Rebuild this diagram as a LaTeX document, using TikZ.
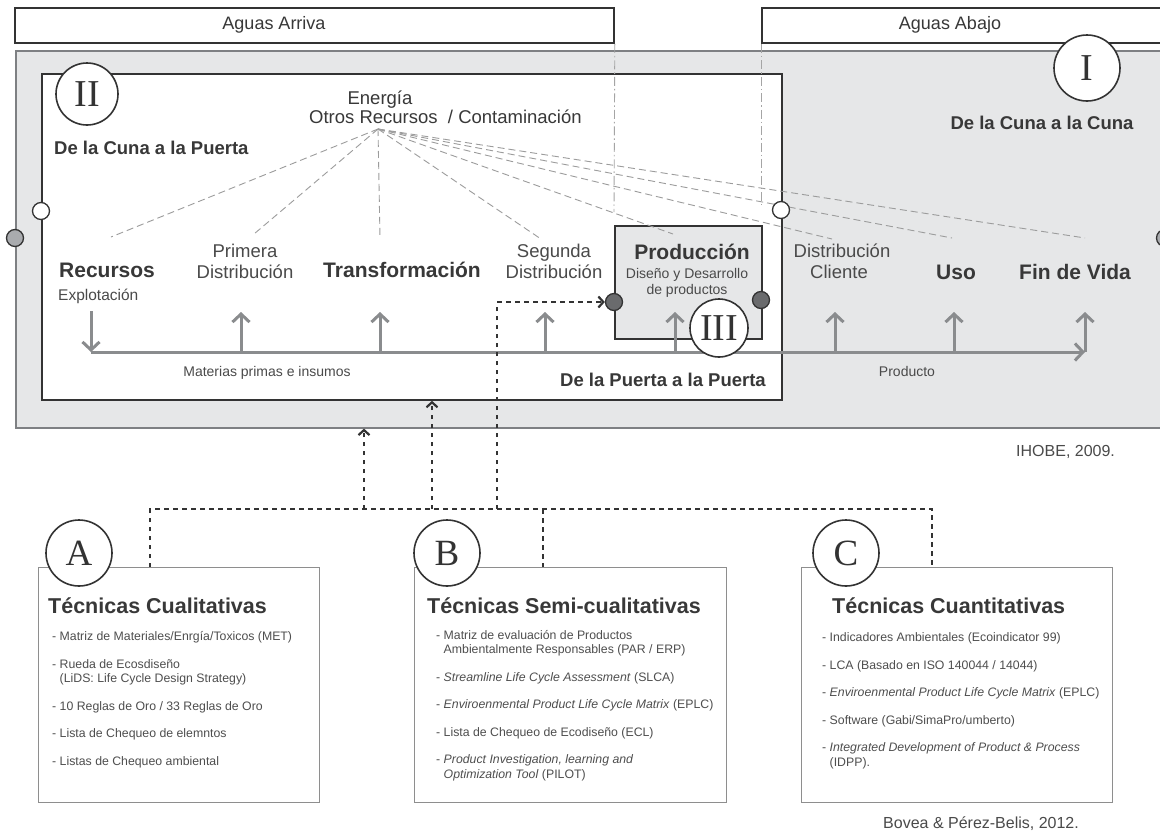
\documentclass[tikz,border=0pt]{standalone}
\usepackage{fontspec}
\setmainfont{Liberation Sans}
\newfontfamily\romanfont{Liberation Serif}
\usetikzlibrary{arrows.meta}

\definecolor{cradlefill}{HTML}{E6E7E8}
\definecolor{cradleline}{HTML}{7E8083}
\definecolor{ink}{HTML}{333333}
\definecolor{txt}{HTML}{383838}
\definecolor{softtxt}{HTML}{4A4A4A}
\definecolor{flow}{HTML}{8A8C8E}
\definecolor{fanline}{HTML}{9C9C9C}
\definecolor{guideline}{HTML}{A5A5A5}
\definecolor{listtxt}{HTML}{4E4E4E}
\definecolor{techline}{HTML}{8E8E8E}
\definecolor{knobdark}{HTML}{6A6B6D}
\definecolor{knobmid}{HTML}{A9ABAE}

\tikzset{
  band/.style={draw=ink, line width=1.8pt, fill=white, inner sep=0pt, anchor=north west},
  bandtext/.style={font=\fontsize{18}{21}\selectfont, text=txt, inner sep=0pt},
  guide/.style={draw=guideline, line width=0.9pt, dash pattern=on 9pt off 3pt on 1.5pt off 3pt},
  fan/.style={draw=fanline, line width=0.9pt, dash pattern=on 7pt off 4pt},
  knob/.style={circle, draw=ink, line width=1.3pt, minimum size=17pt, inner sep=0pt},
  roman/.style={circle, draw=ink, line width=1.6pt, fill=white, inner sep=0pt,
    font=\romanfont\fontsize{38}{38}\selectfont, text=ink},
  heading/.style={font=\bfseries\fontsize{18.5}{22}\selectfont, text=txt, inner sep=0pt},
  stagebold/.style={font=\bfseries\fontsize{21}{24}\selectfont, text=txt, inner sep=0pt, anchor=base},
  stagereg/.style={font=\fontsize{18.5}{21}\selectfont, text=softtxt, inner sep=0pt, anchor=base},
  note/.style={font=\fontsize{14}{16}\selectfont, text=softtxt, inner sep=0pt, anchor=base},
  flowarrow/.style={draw=flow, line width=3pt, -{Straight Barb[length=8pt,width=17pt]}},
  bus/.style={draw=ink, line width=2.2pt, dash pattern=on 4.5pt off 4.5pt},
  bustip/.style={-{Straight Barb[length=5pt,width=11pt]}},
  techbox/.style={draw=techline, line width=1.2pt, fill=white, inner sep=0pt, anchor=north west,
    minimum height=235pt},
  techtitle/.style={font=\bfseries\fontsize{21.5}{24}\selectfont, text=txt, inner sep=0pt, anchor=base west},
  % multi-line lists are placed by the baseline of their last line
  techlist/.style={font=\fontsize{12.3}{14.5}\selectfont, text=listtxt, inner sep=0pt,
    align=left, anchor=base west},
  credit/.style={font=\fontsize{16}{19}\selectfont, text=softtxt, inner sep=0pt, anchor=base west},
}

\begin{document}
\begin{tikzpicture}[x=1pt,y=-1pt]
\useasboundingbox (0,0) rectangle (1160,833);
\clip (0,0) rectangle (1160,833);
\fill[white] (0,0) rectangle (1160,833);

% ---- life cycle frames ----
\node[draw=cradleline, fill=cradlefill, line width=1.6pt, inner sep=0pt, anchor=north west,
      minimum width=1152pt, minimum height=377pt] (c2c) at (15,50) {};
\node[draw=ink, fill=white, line width=1.8pt, inner sep=0pt, anchor=north west,
      minimum width=740pt, minimum height=326pt] (c2g) at (41,73) {};

% ---- upstream / downstream bands ----
\node[band, minimum width=599pt, minimum height=35pt] (upstream) at (14,7) {};
\node[bandtext] (upstreamlabel) at (274,24.5) {Aguas Arriva};
\node[band, minimum width=420pt, minimum height=35pt] (downstream) at (761,7) {};
\node[bandtext] (downstreamlabel) at (950,24.5) {Aguas Abajo};

\coordinate (guideA) at (614,212);
\coordinate (guideB) at (761,205);
\draw[guide] (upstream.south east) -- (guideA);
\draw[guide] (downstream.south west) -- (guideB);

% ---- production block ----
\node[draw=ink, fill=cradlefill, line width=1.8pt, inner sep=0pt, anchor=north west,
      minimum width=147pt, minimum height=113pt] (prod) at (614,225) {};

% ---- inputs / outputs fan ----
\coordinate (hub) at (378,129);
\coordinate (fanRec) at (111,237);
\coordinate (fanPri) at (254,234);
\coordinate (fanTra) at (380,238);
\coordinate (fanSeg) at (541,239);
\coordinate (fanPro) at (673,234);
\coordinate (fanDis) at (832,239);
\coordinate (fanUso) at (952,238);
\coordinate (fanFin) at (1085,238);
\foreach \e in {fanRec,fanPri,fanTra,fanSeg,fanPro,fanDis,fanUso,fanFin}
  \draw[fan] (hub) -- (\e);

% ---- stage labels ----
\node[stagebold, anchor=base west] (recursos) at (59,277.5) {Recursos};
\node[stagereg, anchor=base west, font=\fontsize{15.5}{18}\selectfont] (explotacion) at (58,300.5) {Explotación};
\node[stagereg] (primera1) at (245,257.6) {Primera};
\node[stagereg] (primera2) at (245,278.6) {Distribución};
\node[stagebold] (transformacion) at (402,277.5) {Transformación};
\node[stagereg] (segunda1) at (554,257.6) {Segunda};
\node[stagereg] (segunda2) at (554,278.6) {Distribución};
\node[stagebold] (produccion) at (692,259.5) {Producción};
\node[note] (diseno1) at (687,278) {Diseño y Desarrollo};
\node[note] (diseno2) at (687,294) {de productos};
\node[stagereg] (cliente1) at (842,257.6) {Distribución};
\node[stagereg] (cliente2) at (839,278.6) {Cliente};
\node[stagebold] (uso) at (956,279.5) {Uso};
\node[stagebold] (fin) at (1075,279.5) {Fin de Vida};

% ---- material / product flow ----
\coordinate (axisL) at (91,352);
\coordinate (axisR) at (1085,352);
\coordinate (dropTop) at (91,311);
\draw[flowarrow] (dropTop) -- (axisL);
\draw[flowarrow] (axisL) -- (axisR);
\foreach \x/\nm in {241/a,380/b,545/c,675/d,835/e,954/f,1085/g}{
  \coordinate (foot\nm) at (\x,352);
  \coordinate (rise\nm) at (\x,312);
  \draw[flowarrow] (foot\nm) -- (rise\nm);
}
\node[note] (matLabel) at (267,376) {Materias primas e insumos};
\node[note] (prodLabel) at (907,376) {Producto};

% ---- boundary knobs ----
\node[knob, fill=knobmid] (knobL) at (15,238) {};
\node[knob, fill=knobmid] (knobR) at (1165,238) {};
\node[knob, fill=white] (knobG1) at (41,211) {};
\node[knob, fill=white] (knobG2) at (781,210) {};
\node[knob, fill=knobdark] (knobP1) at (614,302) {};
\node[knob, fill=knobdark] (knobP2) at (761,300) {};

% ---- scope markers ----
\node[roman, minimum size=62pt] (romII) at (87,94) {II};
\node[roman, minimum size=66pt] (romI) at (1087,68) {I};
\node[roman, minimum size=58pt] (romIII) at (719,328) {III};

\node[heading, anchor=base west] (c2gLabel) at (54,154.6) {De la Cuna a la Puerta};
\node[heading, anchor=base] (c2cLabel) at (1042,129.6) {De la Cuna a la Cuna};
\node[heading, anchor=base east] (g2gLabel) at (766,386.6) {De la Puerta a la Puerta};

\node[stagereg, text=txt] (energy) at (380,104.6) {Energía};
\node[stagereg, text=txt, anchor=base west] (resources) at (309,123.6) {Otros Recursos~~/ Contaminación};

\node[credit] (ihobe) at (1016,456.7) {IHOBE, 2009.};

% ---- technique boxes ----
\node[techbox, minimum width=281pt] (techA) at (38,567) {};
\node[techbox, minimum width=312pt] (techB) at (414,567) {};
\node[techbox, minimum width=311pt] (techC) at (801,567) {};

% ---- links from techniques to the life cycle ----
\coordinate (busA) at (150,509);
\coordinate (busB) at (543,509);
\coordinate (busC) at (932,509);
\coordinate (busUp1) at (364,509);
\coordinate (busUp2) at (432,509);
\coordinate (busUp3) at (497,509);
\draw[bus] (busA |- techA.north) -- (busA) -- (busC) -- (busC |- techC.north);
\draw[bus] (busB) -- (busB |- techB.north);
\draw[bus, bustip] (busUp1) -- (busUp1 |- c2c.south);
\draw[bus, bustip] (busUp2) -- (busUp2 |- c2g.south);
\draw[bus, bustip] (busUp3) |- (knobP1.west);

\node[roman, minimum size=66pt, font=\romanfont\fontsize{37}{37}\selectfont] (tagA) at (79,553) {A};
\node[roman, minimum size=66pt, font=\romanfont\fontsize{37}{37}\selectfont] (tagB) at (447,553) {B};
\node[roman, minimum size=66pt, font=\romanfont\fontsize{37}{37}\selectfont] (tagC) at (846,553) {C};

\node[techtitle] (titleA) at (48,613.7) {Técnicas Cualitativas};
\node[techtitle] (titleB) at (427,613.7) {Técnicas Semi-cualitativas};
\node[techtitle] (titleC) at (832,613.7) {Técnicas Cuantitativas};

\node[techlist] (listA) at (52,765.4) {%
- Matriz de Materiales/Enrgía/Toxicos (MET)\\[13pt]
- Rueda de Ecosdiseño\\
\phantom{- }(LiDS: Life Cycle Design Strategy)\\[13pt]
- 10 Reglas de Oro / 33 Reglas de Oro\\[13pt]
- Lista de Chequeo de elemntos\\[13pt]
- Listas de Chequeo ambiental};

\node[techlist] (listB) at (436,778.4) {%
- Matriz de evaluación de Productos\\
\phantom{- }Ambientalmente Responsables (PAR / ERP)\\[13pt]
- \textit{Streamline Life Cycle Assessment} (SLCA)\\[13pt]
- \textit{Enviroenmental Product Life Cycle Matrix} (EPLC)\\[13pt]
- Lista de Chequeo de Ecodiseño (ECL)\\[13pt]
- \textit{Product Investigation, learning and}\\
\phantom{- }\textit{Optimization Tool} (PILOT)};

\node[techlist] (listC) at (822,766.4) {%
- Indicadores Ambientales (Ecoindicator 99)\\[13pt]
- LCA (Basado en ISO 140044 / 14044)\\[13pt]
- \textit{Enviroenmental Product Life Cycle Matrix} (EPLC)\\[13pt]
- Software (Gabi/SimaPro/umberto)\\[13pt]
- \textit{Integrated Development of Product \& Process}\\
\phantom{- }(IDPP).};

\node[credit] (bovea) at (883,828.7) {Bovea \& Pérez-Belis, 2012.};
\end{tikzpicture}
\end{document}
